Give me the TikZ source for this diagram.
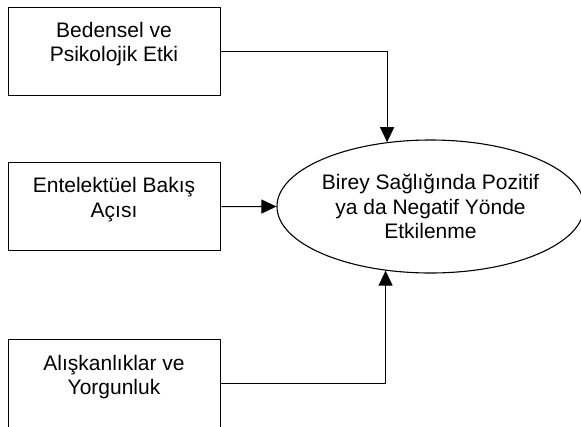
\documentclass[tikz,border=0pt]{standalone}
\usepackage{fontspec}
\setmainfont{Liberation Sans}
\usetikzlibrary{shapes.geometric,arrows.meta}
\begin{document}
\begin{tikzpicture}[x=1pt,y=-1pt,
  box/.style={draw, line width=1.3pt, minimum width=212pt, minimum height=88pt, inner sep=0pt, anchor=north west},
  txt/.style={font=\fontsize{21}{24.5}\selectfont, align=center, inner sep=0pt},
  lbl/.style={txt, anchor=north},
  conn/.style={line width=1.1pt, -{Triangle[length=15pt,width=14pt]}}]
\clip (0,0) rectangle (581,426);
\fill[white] (0,0) rectangle (581,426);
\node[box] (b1) at (8,7) {};
\node[box] (b2) at (8,162) {};
\node[box] (b3) at (8,339) {};
\node[lbl] (t1) at (114,21.7) {Bedensel ve\\Psikolojik Etki};
\node[lbl] (t2) at (114,177.4) {Entelektüel Bakış\\Açısı};
\node[lbl] (t3) at (114,354.7) {Alışkanlıklar ve\\Yorgunluk};
\node[draw, ellipse, line width=1.1pt, minimum width=299pt, minimum height=133pt, inner sep=0pt, txt] (e) at (430.5,206.5) {Birey Sağlığında Pozitif\\ya da Negatif Yönde\\Etkilenme};
\draw[conn] (b1.east) -| (e.124.4);
\draw[conn] (b2.east) -- (e.west);
\draw[conn] (b3.east) -| (e.235.6);
\end{tikzpicture}
\end{document}
